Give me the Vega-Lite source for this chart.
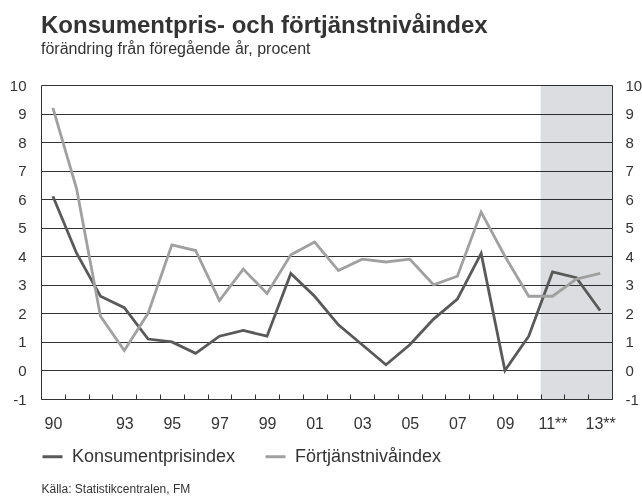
{
  "$schema": "https://vega.github.io/schema/vega-lite/v6.json",
  "autosize": "none",
  "width": 571,
  "height": 314,
  "padding": {"left": 41, "top": 85, "right": 30, "bottom": 99},
  "background": "white",
  "config": {
    "font": "Liberation Sans",
    "view": {"stroke": null},
    "axis": {"labelFont": "Liberation Sans", "labelColor": "#333333", "domainColor": "#333333"},
    "axisX": {
      "labelOverlap": false,
      "labelFlush": false,
      "labelBound": false,
      "tickOffset": 11.9,
      "labelOffset": -11.9,
      "tickSize": -5,
      "tickColor": "#333333",
      "labelPadding": 29,
      "labelFontSize": 16,
      "labelBaseline": "middle",
      "grid": false
    }
  },
  "title": {
    "text": "Konsumentpris- och förtjänstnivåindex",
    "subtitle": "förändring från föregående år, procent",
    "anchor": "start",
    "frame": "group",
    "font": "Liberation Sans",
    "fontSize": 24,
    "fontWeight": "bold",
    "color": "#333333",
    "subtitleFont": "Liberation Sans",
    "subtitleFontSize": 16,
    "subtitleColor": "#333333",
    "subtitlePadding": 3,
    "offset": 21
  },
  "datasets": {
    "series": [
      {"year": 1990, "series": "Konsumentprisindex", "value": 6.1},
      {"year": 1991, "series": "Konsumentprisindex", "value": 4.1},
      {"year": 1992, "series": "Konsumentprisindex", "value": 2.6},
      {"year": 1993, "series": "Konsumentprisindex", "value": 2.2},
      {"year": 1994, "series": "Konsumentprisindex", "value": 1.1},
      {"year": 1995, "series": "Konsumentprisindex", "value": 1.0},
      {"year": 1996, "series": "Konsumentprisindex", "value": 0.6},
      {"year": 1997, "series": "Konsumentprisindex", "value": 1.2},
      {"year": 1998, "series": "Konsumentprisindex", "value": 1.4},
      {"year": 1999, "series": "Konsumentprisindex", "value": 1.2},
      {"year": 2000, "series": "Konsumentprisindex", "value": 3.4},
      {"year": 2001, "series": "Konsumentprisindex", "value": 2.6},
      {"year": 2002, "series": "Konsumentprisindex", "value": 1.6},
      {"year": 2003, "series": "Konsumentprisindex", "value": 0.9},
      {"year": 2004, "series": "Konsumentprisindex", "value": 0.2},
      {"year": 2005, "series": "Konsumentprisindex", "value": 0.9},
      {"year": 2006, "series": "Konsumentprisindex", "value": 1.8},
      {"year": 2007, "series": "Konsumentprisindex", "value": 2.5},
      {"year": 2008, "series": "Konsumentprisindex", "value": 4.1},
      {"year": 2009, "series": "Konsumentprisindex", "value": 0.0},
      {"year": 2010, "series": "Konsumentprisindex", "value": 1.2},
      {"year": 2011, "series": "Konsumentprisindex", "value": 3.45},
      {"year": 2012, "series": "Konsumentprisindex", "value": 3.25},
      {"year": 2013, "series": "Konsumentprisindex", "value": 2.1},
      {"year": 1990, "series": "Förtjänstnivåindex", "value": 9.2},
      {"year": 1991, "series": "Förtjänstnivåindex", "value": 6.35},
      {"year": 1992, "series": "Förtjänstnivåindex", "value": 1.9},
      {"year": 1993, "series": "Förtjänstnivåindex", "value": 0.7},
      {"year": 1994, "series": "Förtjänstnivåindex", "value": 2.0},
      {"year": 1995, "series": "Förtjänstnivåindex", "value": 4.4},
      {"year": 1996, "series": "Förtjänstnivåindex", "value": 4.2},
      {"year": 1997, "series": "Förtjänstnivåindex", "value": 2.45},
      {"year": 1998, "series": "Förtjänstnivåindex", "value": 3.55},
      {"year": 1999, "series": "Förtjänstnivåindex", "value": 2.7},
      {"year": 2000, "series": "Förtjänstnivåindex", "value": 4.05},
      {"year": 2001, "series": "Förtjänstnivåindex", "value": 4.5},
      {"year": 2002, "series": "Förtjänstnivåindex", "value": 3.5},
      {"year": 2003, "series": "Förtjänstnivåindex", "value": 3.9},
      {"year": 2004, "series": "Förtjänstnivåindex", "value": 3.8},
      {"year": 2005, "series": "Förtjänstnivåindex", "value": 3.9},
      {"year": 2006, "series": "Förtjänstnivåindex", "value": 3.0},
      {"year": 2007, "series": "Förtjänstnivåindex", "value": 3.3},
      {"year": 2008, "series": "Förtjänstnivåindex", "value": 5.55},
      {"year": 2009, "series": "Förtjänstnivåindex", "value": 4.0},
      {"year": 2010, "series": "Förtjänstnivåindex", "value": 2.6},
      {"year": 2011, "series": "Förtjänstnivåindex", "value": 2.6},
      {"year": 2012, "series": "Förtjänstnivåindex", "value": 3.2},
      {"year": 2013, "series": "Förtjänstnivåindex", "value": 3.4}
    ],
    "forecast": [
      {"from": 2010.5, "to": 2013.5}
    ]
  },
  "layer": [
    {
      "data": {"name": "forecast"},
      "mark": {"type": "rect", "fill": "#dcdde0", "blend": "multiply"},
      "encoding": {
        "x": {
          "field": "from",
          "type": "quantitative",
          "scale": {"domain": [1989.5, 2013.5], "nice": false, "zero": false},
          "axis": {
            "values": [1990, 1991, 1992, 1993, 1994, 1995, 1996, 1997, 1998, 1999, 2000, 2001, 2002, 2003, 2004, 2005, 2006, 2007, 2008, 2009, 2010, 2011, 2012, 2013],
            "labelExpr": "(datum.value == 1990 || (datum.value >= 1993 && datum.value % 2 == 1)) ? (substring(toString(datum.value), 2) + (datum.value >= 2011 ? '**' : '')) : ''",
            "labelOverlap": false,
            "domainColor": "#333333",
            "title": "Källa: Statistikcentralen, FM",
            "titleFont": "Liberation Sans",
            "titleFontSize": 12,
            "titleFontWeight": "normal",
            "titleColor": "#333333",
            "titleAnchor": "start",
            "titleAlign": "left",
            "titleBaseline": "middle",
            "titleX": 0,
            "titleY": 89
          }
        },
        "x2": {"field": "to"}
      }
    },
    {
      "data": {"name": "series"},
      "mark": {"type": "line", "strokeWidth": 2.8, "strokeJoin": "miter"},
      "encoding": {
        "x": {
          "field": "year",
          "type": "quantitative",
          "scale": {"domain": [1989.5, 2013.5], "nice": false, "zero": false},
          "axis": {
            "values": [1990, 1991, 1992, 1993, 1994, 1995, 1996, 1997, 1998, 1999, 2000, 2001, 2002, 2003, 2004, 2005, 2006, 2007, 2008, 2009, 2010, 2011, 2012, 2013],
            "labelExpr": "(datum.value == 1990 || (datum.value >= 1993 && datum.value % 2 == 1)) ? (substring(toString(datum.value), 2) + (datum.value >= 2011 ? '**' : '')) : ''",
            "labelOverlap": false,
            "domainColor": "#333333",
            "title": "Källa: Statistikcentralen, FM",
            "titleFont": "Liberation Sans",
            "titleFontSize": 12,
            "titleFontWeight": "normal",
            "titleColor": "#333333",
            "titleAnchor": "start",
            "titleAlign": "left",
            "titleBaseline": "middle",
            "titleX": 0,
            "titleY": 89
          }
        },
        "y": {
          "field": "value",
          "type": "quantitative",
          "scale": {"domain": [-1, 10], "nice": false, "zero": false},
          "axis": {
            "orient": "left",
            "values": [-1, 0, 1, 2, 3, 4, 5, 6, 7, 8, 9, 10],
            "labelExpr": "'' + datum.value",
            "ticks": false,
            "grid": true,
            "gridColor": "#333333",
            "gridWidth": 1,
            "gridOpacity": 1,
            "labelPadding": 15,
            "labelFontSize": 15,
            "title": null
          }
        },
        "color": {
          "field": "series",
          "type": "nominal",
          "scale": {"domain": ["Konsumentprisindex", "Förtjänstnivåindex"], "range": ["#595959", "#a0a0a0"]},
          "legend": {
            "orient": "none",
            "legendX": 0,
            "legendY": 360,
            "direction": "horizontal",
            "title": null,
            "symbolType": "stroke",
            "symbolSize": 400,
            "symbolStrokeWidth": 3,
            "labelFont": "Liberation Sans",
            "labelFontSize": 18,
            "labelLimit": 400,
            "labelColor": "#333333",
            "labelOffset": 8,
            "columnPadding": 23
          }
        }
      }
    },
    {
      "data": {"name": "series"},
      "mark": {"type": "rule", "opacity": 0},
      "encoding": {
        "y": {
          "field": "value",
          "type": "quantitative",
          "axis": {
            "orient": "right",
            "values": [-1, 0, 1, 2, 3, 4, 5, 6, 7, 8, 9, 10],
            "labelExpr": "'' + datum.value",
            "ticks": false,
            "grid": false,
            "labelPadding": 13,
            "labelFontSize": 15,
            "title": null
          }
        }
      }
    }
  ],
  "resolve": {"axis": {"y": "independent"}}
}
